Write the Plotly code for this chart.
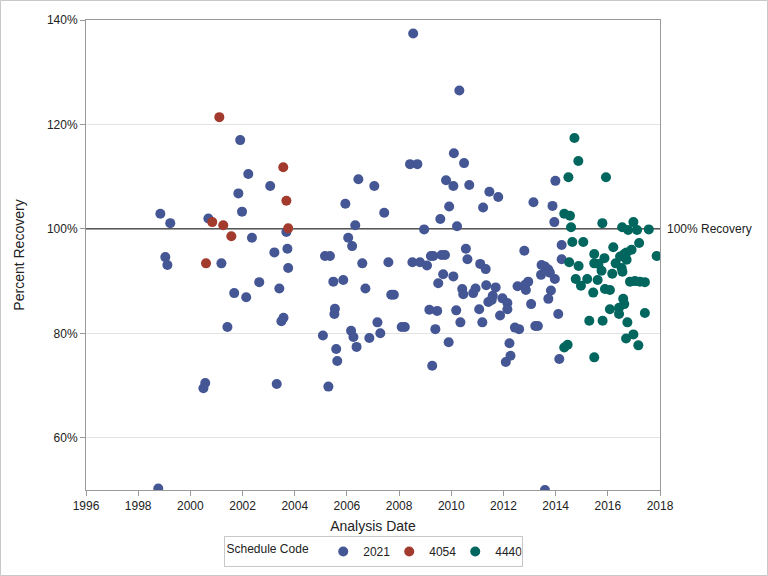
import plotly.graph_objects as go

# ---- data (decimal year, percent recovery) ----
x_2021 = [1998.77, 1998.85, 1999.04, 1999.12, 1999.23, 2000.50, 2000.57, 2000.69, 2001.19, 2001.42,
          2001.68, 2001.84, 2001.91, 2001.98, 2002.14, 2002.22, 2002.36, 2002.64, 2003.06, 2003.22,
          2003.31, 2003.41, 2003.49, 2003.57, 2003.68, 2003.72, 2003.75, 2005.08, 2005.16, 2005.29,
          2005.35, 2005.48, 2005.52, 2005.54, 2005.59, 2005.63, 2005.86, 2005.94, 2006.05, 2006.16,
          2006.20, 2006.25, 2006.32, 2006.37, 2006.44, 2006.59, 2006.71, 2006.86, 2007.05, 2007.17,
          2007.28, 2007.43, 2007.59, 2007.70, 2007.80, 2008.10, 2008.22, 2008.42, 2008.51, 2008.54,
          2008.70, 2008.80, 2008.96, 2009.07, 2009.16, 2009.22, 2009.27, 2009.31, 2009.39, 2009.46,
          2009.50, 2009.58, 2009.63, 2009.69, 2009.76, 2009.80, 2009.90, 2009.92, 2010.08, 2010.08,
          2010.10, 2010.19, 2010.22, 2010.31, 2010.35, 2010.42, 2010.46, 2010.49, 2010.56, 2010.62,
          2010.69, 2010.84, 2010.93, 2011.07, 2011.11, 2011.19, 2011.22, 2011.32, 2011.34, 2011.42,
          2011.46, 2011.55, 2011.59, 2011.70, 2011.80, 2011.87, 2011.96, 2012.09, 2012.15, 2012.15,
          2012.23, 2012.27, 2012.44, 2012.54, 2012.60, 2012.80, 2012.83, 2012.86, 2012.95, 2013.06,
          2013.15, 2013.22, 2013.32, 2013.44, 2013.46, 2013.59, 2013.59, 2013.72, 2013.72, 2013.78,
          2013.82, 2013.88, 2013.95, 2013.97, 2013.99, 2014.10, 2014.14, 2014.23, 2014.23]
y_2021 = [50.3, 102.9, 94.6, 93.1, 101.1, 69.5, 70.5, 102.0, 93.4, 81.2,
          87.7, 106.8, 117.0, 103.3, 86.9, 110.5, 98.3, 89.8, 108.2, 95.5,
          70.3, 88.6, 82.3, 83.0, 99.4, 96.2, 92.5, 79.6, 94.8, 69.8,
          94.8, 89.9, 83.7, 84.7, 77.0, 74.7, 90.2, 104.8, 98.3, 80.5,
          96.7, 79.3, 100.7, 77.4, 109.5, 93.4, 88.6, 79.1, 108.2, 82.1,
          80.0, 103.1, 93.6, 87.4, 87.4, 81.2, 81.2, 112.4, 93.6, 137.4,
          112.4, 93.6, 99.9, 93.0, 84.5, 94.8, 73.8, 94.8, 80.8, 84.3,
          89.6, 101.9, 95.0, 91.3, 95.0, 109.3, 78.3, 104.3, 108.2, 90.9,
          114.5, 84.4, 100.5, 126.5, 82.1, 88.5, 87.5, 112.6, 96.2, 94.2,
          108.4, 87.7, 88.6, 84.6, 93.3, 82.1, 104.1, 92.3, 89.2, 86.0,
          107.1, 86.4, 87.2, 88.8, 106.1, 83.4, 86.7, 74.5, 85.8, 84.6,
          78.1, 75.7, 81.1, 89.0, 80.8, 95.8, 89.3, 88.3, 89.9, 85.6,
          105.1, 81.4, 81.4, 91.2, 93.1, 92.8, 50.0, 92.2, 86.6, 91.6,
          88.2, 104.4, 101.3, 90.4, 109.2, 83.7, 75.1, 96.9, 94.2]

x_4054 = [2000.60, 2000.84, 2001.11, 2001.26, 2001.57, 2003.56, 2003.68, 2003.75]
y_4054 = [93.4, 101.3, 121.4, 100.7, 98.6, 111.8, 105.4, 100.1]

x_4440 = [2014.33, 2014.33, 2014.46, 2014.49, 2014.52, 2014.55, 2014.59, 2014.64, 2014.72, 2014.77,
          2014.87, 2014.88, 2014.97, 2015.06, 2015.21, 2015.29, 2015.44, 2015.48, 2015.48, 2015.48,
          2015.61, 2015.64, 2015.76, 2015.79, 2015.80, 2015.87, 2015.89, 2015.93, 2016.08, 2016.08,
          2016.17, 2016.21, 2016.30, 2016.43, 2016.43, 2016.47, 2016.53, 2016.55, 2016.56, 2016.59,
          2016.63, 2016.63, 2016.70, 2016.72, 2016.72, 2016.75, 2016.78, 2016.85, 2016.91, 2016.98,
          2016.98, 2017.04, 2017.12, 2017.17, 2017.20, 2017.23, 2017.42, 2017.42, 2017.57, 2017.87]
y_4440 = [102.9, 77.3, 77.8, 109.9, 93.6, 102.5, 100.3, 97.5, 117.4, 90.4,
          113.0, 92.9, 89.1, 97.5, 90.4, 82.4, 87.8, 95.2, 93.4, 75.4,
          90.2, 93.3, 92.0, 101.1, 82.4, 94.4, 88.5, 109.9, 88.3, 84.6,
          91.4, 96.5, 93.4, 84.9, 83.7, 94.7, 92.5, 100.3, 91.8, 86.6,
          95.2, 85.6, 79.0, 95.5, 94.1, 82.1, 99.8, 89.9, 96.0, 101.3,
          79.8, 90.0, 99.8, 77.7, 97.3, 89.9, 89.8, 83.9, 99.9, 94.8]

y_ticks = [60, 80, 100, 120, 140]
y_tick_labels = ["60%", "80%", "100%", "120%", "140%"]
x_ticks = list(range(1996, 2019, 2))
x_range = [1996, 2018]
ref_value = 100

series = [("2021", x_2021, y_2021, "#445694"),
          ("4054", x_4054, y_4054, "#A23A2E"),
          ("4440", x_4440, y_4440, "#01665E")]

FONT = "Liberation Sans, Arial, sans-serif"
AXC = "#9a9a9a"

fig = go.Figure()
# reference line (drawn first so it sits under the markers but above gridlines)
fig.add_trace(go.Scatter(x=x_range, y=[ref_value, ref_value], mode="lines",
                         line=dict(color="black", width=1), showlegend=False,
                         hoverinfo="skip", cliponaxis=False))
for name, xs, ys, col in series:
    fig.add_trace(go.Scatter(x=xs, y=ys, mode="markers", name=name,
                             marker=dict(color=col, size=10, line=dict(width=0))))

fig.add_annotation(x=1, xref="paper", y=ref_value, yref="y", text="100% Recovery",
                   showarrow=False, xanchor="left", xshift=5,
                   font=dict(family=FONT, size=12, color="#222"))

# outer frame
fig.add_shape(type="rect", xref="paper", yref="paper",
              x0=-85.5/574, x1=1 + 107.5/574, y0=-85.5/470, y1=1 + 19.5/470,
              line=dict(color="#c8c8c8", width=1), layer="below")

fig.update_layout(
    width=768, height=576,
    margin=dict(l=86, r=108, t=20, b=86, autoexpand=False),
    paper_bgcolor="white", plot_bgcolor="white",
    font=dict(family=FONT, size=12, color="#222"),
    showlegend=True,
    legend=dict(orientation="h", x=0.5, xanchor="center",
                yref="container", y=1 - 536/576, yanchor="top",
                title=dict(text="Schedule Code  ", font=dict(size=12), side="left"),
                bordercolor="#c8c8c8", borderwidth=1, bgcolor="white",
                font=dict(size=12), itemwidth=30, entrywidth=21, entrywidthmode="pixels",
                valign="middle"),
    xaxis=dict(range=x_range, tickvals=x_ticks, showgrid=False, zeroline=False,
               showline=True, linecolor=AXC, mirror=True, ticks="outside", ticklen=5,
               tickcolor=AXC, title=dict(text="Analysis Date", standoff=8),
               tickfont=dict(size=12), automargin=False),
    yaxis=dict(range=[50, 140], tickvals=y_ticks, ticktext=y_tick_labels, showgrid=True,
               gridcolor="#e3e3e3", zeroline=False, showline=True, linecolor=AXC,
               mirror=True, ticks="outside", ticklen=5, tickcolor=AXC,
               title=dict(text="Percent Recovery", standoff=18), tickfont=dict(size=12),
               automargin=False),
)

fig.write_html("out.html", config={"displayModeBar": False},
               post_script="document.body.style.margin='0px';")
